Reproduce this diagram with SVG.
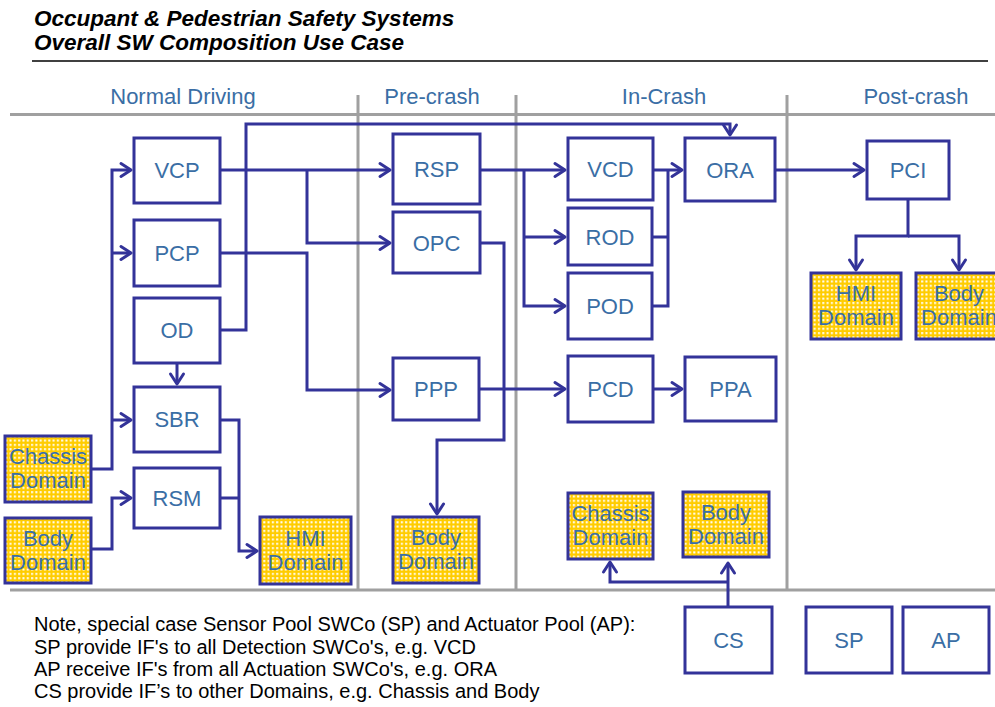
<svg xmlns="http://www.w3.org/2000/svg" width="995" height="707" viewBox="0 0 995 707">
<style>
.title{font-family:"Liberation Sans",Arial,sans-serif;font-weight:bold;font-style:italic;font-size:22.5px;fill:#000}
.hdr{font-family:"Liberation Sans",Arial,sans-serif;font-size:22px;fill:#3a6ea5;text-anchor:middle}
.lbl{font-family:"Liberation Sans",Arial,sans-serif;font-size:22px;fill:#3a6ea5;text-anchor:middle}
.note{font-family:"Liberation Sans",Arial,sans-serif;font-size:20px;fill:#000}
.box{fill:#fff;stroke:#333399;stroke-width:3}
.dom{fill:url(#dots);stroke:#333399;stroke-width:3}
.grid{stroke:#a0a0a0;stroke-width:3;fill:none}
.con{fill:none;stroke:#333399;stroke-width:3;stroke-linejoin:miter}
.arr{marker-end:url(#ah)}
</style>
<defs>
<pattern id="dots" patternUnits="userSpaceOnUse" width="4.3" height="4.3">
<rect width="4.3" height="4.3" fill="#ffcc00"/>
<rect x="1" y="1" width="2" height="2" fill="#ffffff"/>
</pattern>
<marker id="ah" markerUnits="userSpaceOnUse" viewBox="-2 -8 14 16" markerWidth="14" markerHeight="16" refX="10" refY="0" orient="auto" overflow="visible">
<path d="M0,-6.5 L10,0 L0,6.5" fill="none" stroke="#333399" stroke-width="3" stroke-linejoin="round" stroke-linecap="round"/>
</marker>
</defs>

<g id="title">
<text class="title" x="34" y="26">Occupant &amp; Pedestrian Safety Systems</text>
<text class="title" x="34" y="50">Overall SW Composition Use Case</text>
<line x1="32" y1="61" x2="988" y2="61" stroke="#000" stroke-width="1.5"/>
</g>

<g id="lanes">
<line class="grid" x1="10" y1="114.5" x2="995" y2="114.5"/>
<line class="grid" x1="10" y1="590" x2="995" y2="590"/>
<line class="grid" x1="358" y1="95" x2="358" y2="590"/>
<line class="grid" x1="516" y1="95" x2="516" y2="590"/>
<line class="grid" x1="787" y1="95" x2="787" y2="590"/>
<text class="hdr" x="183" y="104">Normal Driving</text>
<text class="hdr" x="432" y="104">Pre-crash</text>
<text class="hdr" x="664" y="104">In-Crash</text>
<text class="hdr" x="916" y="104">Post-crash</text>
</g>

<g id="connectors">
<path class="con" d="M91,469 H112 V170 H131" marker-end="url(#ah)"/>
<path class="con" d="M112,253 H131" marker-end="url(#ah)"/>
<path class="con" d="M112,420 H131" marker-end="url(#ah)"/>
<path class="con" d="M91,549 H112 V498 H131" marker-end="url(#ah)"/>
<path class="con" d="M220,420 H239 V551 H257" marker-end="url(#ah)"/>
<path class="con" d="M220,498 H239"/>
<path class="con" d="M177,363 V384" marker-end="url(#ah)"/>
<path class="con" d="M220,330 H246 V124 H730 V135" marker-end="url(#ah)"/>
<path class="con" d="M220,170 H390" marker-end="url(#ah)"/>
<path class="con" d="M307,170 V243 H390" marker-end="url(#ah)"/>
<path class="con" d="M220,253 H307 V390 H390" marker-end="url(#ah)"/>
<path class="con" d="M480,170 H565" marker-end="url(#ah)"/>
<path class="con" d="M524,170 V306 H565" marker-end="url(#ah)"/>
<path class="con" d="M524,237 H565" marker-end="url(#ah)"/>
<path class="con" d="M480,243 H504 V440 H437 V514" marker-end="url(#ah)"/>
<path class="con" d="M479,389 H565" marker-end="url(#ah)"/>
<path class="con" d="M653,389 H682" marker-end="url(#ah)"/>
<path class="con" d="M653,170 H682" marker-end="url(#ah)"/>
<path class="con" d="M652,237 H668"/>
<path class="con" d="M652,306 H668 V170"/>
<path class="con" d="M775,170 H864" marker-end="url(#ah)"/>
<path class="con" d="M908,199 V236 H856 V270" marker-end="url(#ah)"/>
<path class="con" d="M908,236 H959 V270" marker-end="url(#ah)"/>
<path class="con" d="M728,607 V563" marker-end="url(#ah)"/>
<path class="con" d="M728,582 H610 V562" marker-end="url(#ah)"/>
</g>

<g id="VCP"><rect class="box" x="134" y="138" width="86" height="65"/><text class="lbl" x="177" y="178">VCP</text></g>
<g id="PCP"><rect class="box" x="134" y="220" width="86" height="66"/><text class="lbl" x="177" y="261">PCP</text></g>
<g id="OD"><rect class="box" x="134" y="298" width="86" height="65"/><text class="lbl" x="177" y="338">OD</text></g>
<g id="SBR"><rect class="box" x="134" y="387" width="86" height="65"/><text class="lbl" x="177" y="427">SBR</text></g>
<g id="RSM"><rect class="box" x="134" y="468" width="86" height="60"/><text class="lbl" x="177" y="506">RSM</text></g>

<g id="ChassisDomain1"><rect class="dom" x="5" y="436" width="86" height="66"/><text class="lbl" x="48" y="464">Chassis</text><text class="lbl" x="48" y="488">Domain</text></g>
<g id="BodyDomain1"><rect class="dom" x="5" y="518" width="86" height="65"/><text class="lbl" x="48" y="546">Body</text><text class="lbl" x="48" y="570">Domain</text></g>
<g id="HMIDomain1"><rect class="dom" x="260" y="517" width="91" height="67"/><text class="lbl" x="305.5" y="546">HMI</text><text class="lbl" x="305.5" y="570">Domain</text></g>

<g id="RSP"><rect class="box" x="393" y="134" width="87" height="70"/><text class="lbl" x="436.5" y="177">RSP</text></g>
<g id="OPC"><rect class="box" x="393" y="212" width="87" height="61"/><text class="lbl" x="436.5" y="251">OPC</text></g>
<g id="PPP"><rect class="box" x="393" y="358" width="86" height="62"/><text class="lbl" x="436" y="397">PPP</text></g>
<g id="BodyDomain2"><rect class="dom" x="393" y="517" width="86" height="66"/><text class="lbl" x="436" y="545">Body</text><text class="lbl" x="436" y="569">Domain</text></g>

<g id="VCD"><rect class="box" x="568" y="138" width="85" height="62"/><text class="lbl" x="610.5" y="177">VCD</text></g>
<g id="ROD"><rect class="box" x="568" y="208" width="84" height="57"/><text class="lbl" x="610" y="245">ROD</text></g>
<g id="POD"><rect class="box" x="568" y="273" width="84" height="66"/><text class="lbl" x="610" y="314">POD</text></g>
<g id="ORA"><rect class="box" x="685" y="138" width="90" height="63"/><text class="lbl" x="730" y="178">ORA</text></g>
<g id="PCD"><rect class="box" x="568" y="356" width="85" height="66"/><text class="lbl" x="610.5" y="397">PCD</text></g>
<g id="PPA"><rect class="box" x="685" y="357" width="91" height="64"/><text class="lbl" x="730.5" y="397">PPA</text></g>
<g id="ChassisDomain2"><rect class="dom" x="568" y="493" width="85" height="66"/><text class="lbl" x="610.5" y="521">Chassis</text><text class="lbl" x="610.5" y="545">Domain</text></g>
<g id="BodyDomain3"><rect class="dom" x="683" y="492" width="86" height="65"/><text class="lbl" x="726" y="520">Body</text><text class="lbl" x="726" y="544">Domain</text></g>

<g id="PCI"><rect class="box" x="867" y="141" width="82" height="58"/><text class="lbl" x="908" y="178">PCI</text></g>
<g id="HMIDomain2"><rect class="dom" x="811" y="273" width="90" height="66"/><text class="lbl" x="856" y="301">HMI</text><text class="lbl" x="856" y="325">Domain</text></g>
<g id="BodyDomain4"><rect class="dom" x="916" y="273" width="86" height="66"/><text class="lbl" x="959" y="301">Body</text><text class="lbl" x="959" y="325">Domain</text></g>

<g id="CS"><rect class="box" x="685" y="607" width="87" height="66"/><text class="lbl" x="728.5" y="648">CS</text></g>
<g id="SP"><rect class="box" x="806" y="607" width="86" height="66"/><text class="lbl" x="849" y="648">SP</text></g>
<g id="AP"><rect class="box" x="903" y="607" width="86" height="66"/><text class="lbl" x="946" y="648">AP</text></g>

<g id="note">
<text class="note" x="34" y="631">Note, special case Sensor Pool SWCo (SP) and Actuator Pool (AP):</text>
<text class="note" x="34" y="654">SP provide IF's to all Detection SWCo's, e.g. VCD</text>
<text class="note" x="34" y="676">AP receive IF's from all Actuation SWCo's, e.g. ORA</text>
<text class="note" x="34" y="698">CS provide IF’s to other Domains, e.g. Chassis and Body</text>
</g>
</svg>
